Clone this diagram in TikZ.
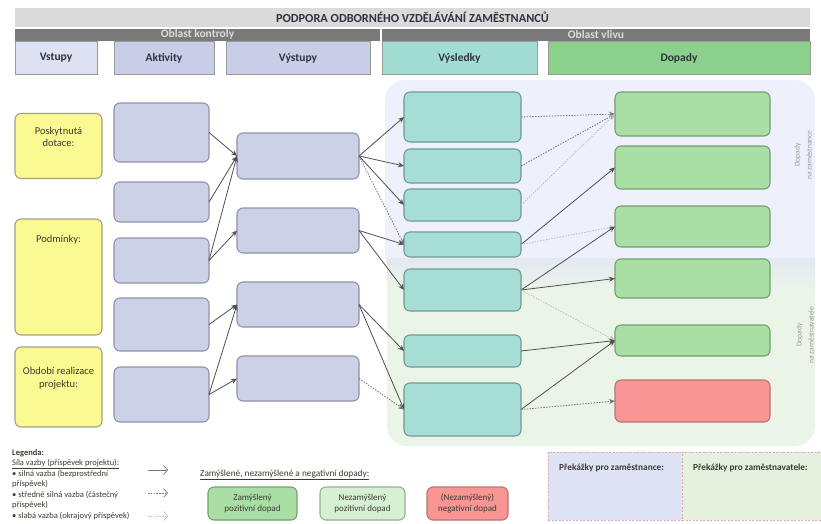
\documentclass[tikz,border=0pt]{standalone}
\usepackage{fontspec}
\setmainfont{Carlito}
\usetikzlibrary{arrows.meta}
\definecolor{cTitle}{HTML}{DADADA}
\definecolor{cBar}{HTML}{7A7A7A}
\definecolor{cBarT}{HTML}{DCDCDC}
\definecolor{cHdrD}{HTML}{9A9A9A}
\definecolor{cHdrT}{HTML}{2F3440}
\definecolor{cHIn}{HTML}{DEE1F2}
\definecolor{cHAk}{HTML}{C9CEE7}
\definecolor{cHVs}{HTML}{A2DDD3}
\definecolor{cHDo}{HTML}{8BD18B}
\definecolor{cYel}{HTML}{FBFA92}
\definecolor{cYelD}{HTML}{A4A27E}
\definecolor{cLav}{HTML}{CDD1E8}
\definecolor{cLavD}{HTML}{8E92AC}
\definecolor{cTeal}{HTML}{A6DDD4}
\definecolor{cTealD}{HTML}{6F9B95}
\definecolor{cGrn}{HTML}{A9DEA4}
\definecolor{cGrnD}{HTML}{74A071}
\definecolor{cLGrn}{HTML}{D7EFD3}
\definecolor{cLGrnD}{HTML}{90B58C}
\definecolor{cRed}{HTML}{FA9595}
\definecolor{cRedD}{HTML}{B47575}
\definecolor{cBgB}{HTML}{EEF0FB}
\definecolor{cBgG}{HTML}{EBF5E7}
\definecolor{cBand}{HTML}{E3E9F1}
\definecolor{cArr}{HTML}{505050}
\definecolor{cArrM}{HTML}{777777}
\definecolor{cArrW}{HTML}{BDBDBD}
\definecolor{cTxt}{HTML}{3C3C30}
\definecolor{cPB}{HTML}{DFE3F6}
\definecolor{cPG}{HTML}{E5F1DF}
\definecolor{cPD}{HTML}{D8A9B2}
\begin{document}
\begin{tikzpicture}[x=1pt,y=-1pt,
  sz/.style 2 args={minimum width=#1pt, minimum height=#2pt},
  box/.style={rounded corners=6pt, inner sep=0pt, outer sep=0pt, line width=1.1pt, align=center, text=cTxt, font=\fontsize{10.5}{12.5}\selectfont},
  inp/.style={box, fill=cYel, draw=cYelD},
  act/.style={box, fill=cLav, draw=cLavD},
  res/.style={box, fill=cTeal, draw=cTealD},
  imp/.style={box, fill=cGrn, draw=cGrnD},
  neg/.style={box, fill=cRed, draw=cRedD},
  hdr/.style={inner sep=0pt, outer sep=0pt, draw=cHdrD, line width=0.9pt, font=\fontsize{11.5}{13}\selectfont\bfseries, text=cHdrT},
  bar/.style={inner sep=0pt, outer sep=0pt, fill=cBar, font=\fontsize{11.5}{12}\selectfont\bfseries, text=cBarT},
  strong/.style={draw=cArr, line width=0.8pt, -{Stealth[length=6pt,width=5pt]}},
  medium/.style={strong, draw=cArrM, dash pattern=on 1.5pt off 1.3pt},
  weak/.style={strong, draw=cArrW, dash pattern=on 1.5pt off 1.3pt},
  lg/.style={draw=cArrM, line width=0.7pt, -{Straight Barb[length=4pt,width=9pt]}},
  lgtxt/.style={inner sep=0pt, anchor=west, text=cTxt, font=\fontsize{8.5}{10.5}\selectfont},
  lbtxt/.style={font=\fontsize{9}{11}\selectfont},
  side/.style={inner sep=0pt, align=center, text=black!40, font=\fontsize{7.5}{12}\selectfont, rotate=90}
]
\useasboundingbox (0,0) rectangle (821,523);
\fill[white] (0,0) rectangle (821,523);

% background regions
\fill[cBgB, rounded corners=20pt] (385,80) rectangle (815,275);
\fill[cBgG, rounded corners=20pt] (387,258) rectangle (815,446);
\shade[top color=cBand, bottom color=cBgG] (387,258) rectangle (815,292);

% header
\node[inner sep=0pt, outer sep=0pt, fill=cTitle, sz={795}{19}, font=\fontsize{12.3}{13}\selectfont\bfseries, text=cHdrT] (title) at (412.5,17.5) {PODPORA ODBORNÉHO VZDĚLÁVÁNÍ ZAMĚSTNANCŮ};
\node[bar, sz={365}{12}] (kontrola) at (197.5,34.5) {Oblast kontroly};
\node[bar, sz={428}{12}] (vliv) at (596,34.5) {Oblast vlivu};
\node[hdr, fill=cHIn, sz={82}{33}] (hIn) at (56,58) {Vstupy};
\node[hdr, fill=cHAk, sz={100}{33}] (hAk) at (164,58) {Aktivity};
\node[hdr, fill=cHAk, sz={144}{33}] (hVy) at (298,58) {Výstupy};
\node[hdr, fill=cHVs, sz={155}{33}] (hVs) at (459.5,58) {Výsledky};
\node[hdr, fill=cHDo, sz={262}{33}] (hDo) at (679,58) {Dopady};

% inputs
\node[inp, sz={87}{65}, label={[anchor=north, yshift=-10pt, align=center, text=cTxt, font=\fontsize{10.5}{12.5}\selectfont]north:Poskytnutá\\dotace:}] (I1) at (58.5,146) {};
\node[inp, sz={87}{116}, label={[anchor=north, yshift=-13pt, align=center, text=cTxt, font=\fontsize{10.5}{12.5}\selectfont]north:Podmínky:}] (I2) at (58.5,277) {};
\node[inp, sz={87}{80}, label={[anchor=north, yshift=-17pt, align=center, text=cTxt, font=\fontsize{10.5}{12.5}\selectfont]north:Období realizace\\projektu:}] (I3) at (58.5,387) {};

% activities
\node[act, sz={95}{59}] (A1) at (161.5,132.5) {};
\node[act, sz={95}{40}] (A2) at (161.5,202) {};
\node[act, sz={95}{45}] (A3) at (161.5,260.5) {};
\node[act, sz={95}{53}] (A4) at (161.5,324.5) {};
\node[act, sz={95}{55}] (A5) at (161.5,394.5) {};

% outputs
\node[act, sz={122}{46}] (O1) at (298,156) {};
\node[act, sz={122}{45}] (O2) at (298,230.5) {};
\node[act, sz={122}{45}] (O3) at (298,304.5) {};
\node[act, sz={122}{45}] (O4) at (298,378.5) {};

% results
\node[res, sz={117}{50}] (V1) at (462.5,117) {};
\node[res, sz={117}{34}] (V2) at (462.5,166) {};
\node[res, sz={117}{32}] (V3) at (462.5,205) {};
\node[res, sz={117}{25}] (V4) at (462.5,244.5) {};
\node[res, sz={117}{42}] (V5) at (462.5,290) {};
\node[res, sz={117}{32}] (V6) at (462.5,351) {};
\node[res, sz={117}{53}] (V7) at (462.5,409.5) {};

% impacts
\node[imp, sz={155}{44}] (D1) at (692.5,114) {};
\node[imp, sz={155}{43}] (D2) at (692.5,167.5) {};
\node[imp, sz={155}{41}] (D3) at (692.5,226.5) {};
\node[imp, sz={155}{39}] (D4) at (692.5,278.5) {};
\node[imp, sz={155}{31}] (D5) at (692.5,340.5) {};
\node[neg, sz={155}{42}] (D6) at (692.5,401) {};

% side labels
\node[side] (sideA) at (803,155) {Dopady\\na zaměstnance};
\node[side] (sideB) at (805,335) {Dopady\\na zaměstnavatele};

% activities -> outputs
\draw[strong] (A1.east) -- (O1.west);
\draw[strong] (A2.east) -- (O1.west);
\draw[strong] (A3.east) -- (O1.west);
\draw[strong] (A3.east) -- (O2.west);
\draw[strong] (A4.east) -- (O3.west);
\draw[strong] (A5.east) -- (O3.west);
\draw[strong] (A5.east) -- (O4.west);

% outputs -> results
\draw[strong] (O1.east) -- (V1.west);
\draw[strong] (O1.east) -- (V2.west);
\draw[strong] (O1.east) -- (V3.west);
\draw[medium] (O1.east) -- (V4.west);
\draw[strong] (O2.east) -- (V4.west);
\draw[strong] (O2.east) -- (V5.west);
\draw[strong] (O3.east) -- (V6.west);
\draw[strong] (O3.east) -- (V7.west);
\draw[medium] (O4.east) -- (V7.west);

% results -> impacts
\draw[medium] (V1.east) -- (D1.west);
\draw[medium] (V2.east) -- (D1.west);
\draw[weak] (V3.east) -- (D1.west);
\draw[strong] (V4.east) -- (D2.west);
\draw[weak] (V4.east) -- (D3.west);
\draw[strong] (V5.east) -- (D3.west);
\draw[strong] (V5.east) -- (D4.west);
\draw[weak] (V5.east) -- (D5.west);
\draw[strong] (V6.east) -- (D5.west);
\draw[strong] (V7.east) -- (D5.west);
\draw[medium] (V7.east) -- (D6.west);

% legend
\node[lgtxt, anchor=north west, align=left] (legend) at (12,449) {\textbf{Legenda:}\\\underline{Síla vazby (příspěvek projektu):}\\• silná vazba (bezprostřední\\příspěvek)\\• středně silná vazba (částečný\\příspěvek)\\• slabá vazba (okrajový příspěvek)};
\coordinate (ls1) at (148,470); \coordinate (le1) at (168,470);
\coordinate (ls2) at (148,493); \coordinate (le2) at (168,493);
\coordinate (ls3) at (148,516); \coordinate (le3) at (168,516);
\draw[lg] (ls1) -- (le1);
\draw[lg, dash pattern=on 1.5pt off 1.3pt] (ls2) -- (le2);
\draw[lg, draw=cArrW, dash pattern=on 1.5pt off 1.3pt] (ls3) -- (le3);

\node[lgtxt, font=\fontsize{9.3}{11}\selectfont] (lgHead) at (200,475) {\underline{Zamýšlené, nezamýšlené a negativní dopady:}};
\node[imp, sz={89}{33}, lbtxt] (L1) at (252.5,503.5) {Zamýšlený\\pozitivní dopad};
\node[box, fill=cLGrn, draw=cLGrnD, sz={85}{33}, lbtxt] (L2) at (362.5,503.5) {Nezamýšlený\\pozitivní dopad};
\node[neg, sz={81}{33}, lbtxt] (L3) at (467.5,503.5) {(Nezamýšlený)\\negativní dopad};

% obstacles
\node[inner sep=0pt, outer sep=0pt, fill=cPB, draw=cPD, line width=0.7pt, dash pattern=on 2pt off 1.5pt, sz={134}{68}] (P1) at (615,486) {};
\node[inner sep=0pt, outer sep=0pt, fill=cPG, draw=cPD, line width=0.7pt, dash pattern=on 2pt off 1.5pt, sz={140}{68}] (P2) at (752,486) {};
\node[lgtxt, font=\fontsize{9.3}{11}\selectfont\bfseries] (P1t) at (559,468) {Překážky pro zaměstnance:};
\node[lgtxt, font=\fontsize{9.3}{11}\selectfont\bfseries] (P2t) at (693,468) {Překážky pro zaměstnavatele:};
\end{tikzpicture}
\end{document}
